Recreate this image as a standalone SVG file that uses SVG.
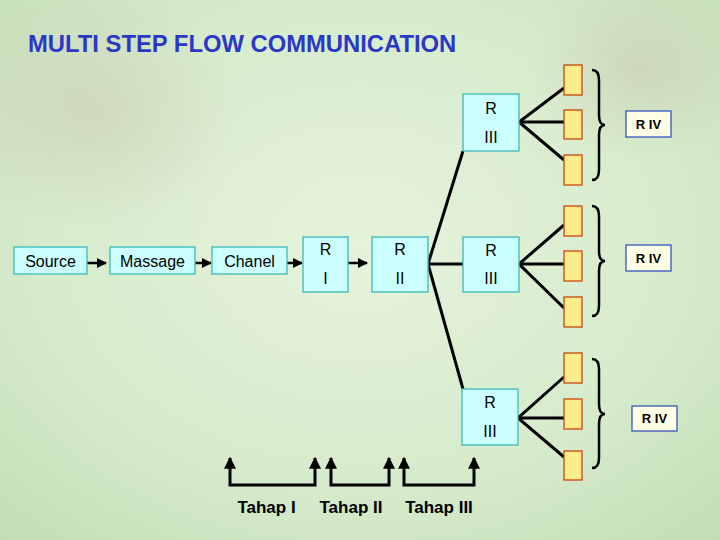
<svg xmlns="http://www.w3.org/2000/svg" width="720" height="540" viewBox="0 0 720 540">
<defs>
<radialGradient id="bg" cx="0.5" cy="0.45" r="0.75">
<stop offset="0" stop-color="#e6f3dc"/>
<stop offset="0.6" stop-color="#d6ebcc"/>
<stop offset="1" stop-color="#c3ddb5"/>
</radialGradient>
<radialGradient id="haze" cx="0.5" cy="0.5" r="0.5">
<stop offset="0" stop-color="#c9c9b0" stop-opacity="0.55"/>
<stop offset="1" stop-color="#c9c9b0" stop-opacity="0"/>
</radialGradient>
<marker id="ah" viewBox="0 0 10 10" refX="9" refY="5" markerWidth="4" markerHeight="4" orient="auto-start-reverse" markerUnits="strokeWidth">
<path d="M0,0 L10,5 L0,10 z" fill="#000"/>
</marker>
<style>
.cy{fill:#ccffff;stroke:#3db8b8;stroke-width:1.3}
.yb{fill:#ffec8a;stroke:#cc4411;stroke-width:1.3}
.rv{fill:#ffffe6;stroke:#3355bb;stroke-width:1.3}
.t{font-family:"Liberation Sans",Arial,sans-serif;font-size:16px;fill:#000;text-anchor:middle}
.tb{font-family:"Liberation Sans",Arial,sans-serif;font-size:13px;font-weight:bold;fill:#000;text-anchor:middle}
.th{font-family:"Liberation Sans",Arial,sans-serif;font-size:17px;font-weight:bold;fill:#000;text-anchor:middle}
.ln{stroke:#000;stroke-width:3;fill:none}
.ar{stroke:#000;stroke-width:2.5;fill:none;marker-end:url(#ah)}
.br{stroke:#000;stroke-width:2.5;fill:none}
.bk{stroke:#000;stroke-width:3;fill:none;marker-start:url(#ah);marker-end:url(#ah)}
</style>
</defs>
<rect x="0" y="0" width="720" height="540" fill="url(#bg)"/>
<ellipse cx="90" cy="110" rx="150" ry="120" fill="url(#haze)"/>
<ellipse cx="640" cy="70" rx="110" ry="90" fill="url(#haze)"/>
<text x="28" y="52" font-family="'Liberation Sans',Arial,sans-serif" font-size="23.8" font-weight="bold" fill="#2b38c6">MULTI STEP FLOW COMMUNICATION</text>

<g id="connectors">
<line class="ar" x1="87" y1="263" x2="106" y2="263"/>
<line class="ar" x1="195" y1="263" x2="211" y2="263"/>
<line class="ar" x1="287" y1="263" x2="302" y2="263"/>
<line class="ar" x1="348" y1="263" x2="367" y2="263"/>
<line class="ln" x1="428" y1="264" x2="463" y2="264"/>
<line class="ln" x1="428" y1="264" x2="463" y2="151"/>
<line class="ln" x1="428" y1="264" x2="463" y2="389"/>
<polyline class="ln" points="564,88 519,122 564,160"/>
<line class="ln" x1="519" y1="122" x2="564" y2="122"/>
<polyline class="ln" points="564,225 519,264 564,308"/>
<line class="ln" x1="519" y1="264" x2="564" y2="264"/>
<polyline class="ln" points="564,377 518,418 564,457"/>
<line class="ln" x1="518" y1="418" x2="564" y2="418"/>
<path class="br" d="M592,70 Q599,70 599,80 V115 Q599,125 605,125 Q599,125 599,135 V170 Q599,180 592,180"/>
<path class="br" d="M592,206 Q599,206 599,216 V251 Q599,261 605,261 Q599,261 599,271 V306 Q599,316 592,316"/>
<path class="br" d="M592,359 Q599,359 599,369 V404 Q599,414 605,414 Q599,414 599,424 V458 Q599,468 592,468"/>
<polyline class="bk" points="230,458 230,485 315,485 315,458"/>
<polyline class="bk" points="331,458 331,485 389,485 389,458"/>
<polyline class="bk" points="404,458 404,485 474,485 474,458"/>
</g>

<g id="source"><rect class="cy" x="14" y="247" width="73" height="27"/><text class="t" x="50.5" y="266.5">Source</text></g>
<g id="massage"><rect class="cy" x="110" y="247" width="85" height="27"/><text class="t" x="152.5" y="266.5">Massage</text></g>
<g id="chanel"><rect class="cy" x="212" y="247" width="75" height="27"/><text class="t" x="249.5" y="266.5">Chanel</text></g>
<g id="r1"><rect class="cy" x="303" y="237" width="45" height="55"/><text class="t" x="325.5" y="254.5">R</text><text class="t" x="325.5" y="283.5">I</text></g>
<g id="r2"><rect class="cy" x="372" y="237" width="56" height="55"/><text class="t" x="400" y="254.5">R</text><text class="t" x="400" y="283.5">II</text></g>
<g id="r3-mid"><rect class="cy" x="463" y="237" width="56" height="55"/><text class="t" x="491" y="255.5">R</text><text class="t" x="491" y="284">III</text></g>
<g id="r3-top"><rect class="cy" x="463" y="94" width="56" height="57"/><text class="t" x="491" y="114">R</text><text class="t" x="491" y="143">III</text></g>
<g id="r3-bot"><rect class="cy" x="462" y="389" width="56" height="56"/><text class="t" x="490" y="408">R</text><text class="t" x="490" y="437">III</text></g>

<g id="y-top-1"><rect class="yb" x="564" y="65" width="18" height="30"/></g>
<g id="y-top-2"><rect class="yb" x="564" y="110" width="18" height="29"/></g>
<g id="y-top-3"><rect class="yb" x="564" y="155" width="18" height="30"/></g>
<g id="y-mid-1"><rect class="yb" x="564" y="206" width="18" height="30"/></g>
<g id="y-mid-2"><rect class="yb" x="564" y="251" width="18" height="30"/></g>
<g id="y-mid-3"><rect class="yb" x="564" y="297" width="18" height="30"/></g>
<g id="y-bot-1"><rect class="yb" x="564" y="353" width="18" height="30"/></g>
<g id="y-bot-2"><rect class="yb" x="564" y="399" width="18" height="30"/></g>
<g id="y-bot-3"><rect class="yb" x="564" y="451" width="18" height="29"/></g>

<g id="r4-top"><rect class="rv" x="626" y="111" width="45" height="26"/><text class="tb" x="648.5" y="128.5">R IV</text></g>
<g id="r4-mid"><rect class="rv" x="626" y="245" width="45" height="26"/><text class="tb" x="648.5" y="262.5">R IV</text></g>
<g id="r4-bot"><rect class="rv" x="632" y="406" width="45" height="25"/><text class="tb" x="654.5" y="423">R IV</text></g>

<g id="tahap-1"><text class="th" x="266.5" y="513">Tahap I</text></g>
<g id="tahap-2"><text class="th" x="351" y="513">Tahap II</text></g>
<g id="tahap-3"><text class="th" x="439" y="513">Tahap III</text></g>
</svg>
